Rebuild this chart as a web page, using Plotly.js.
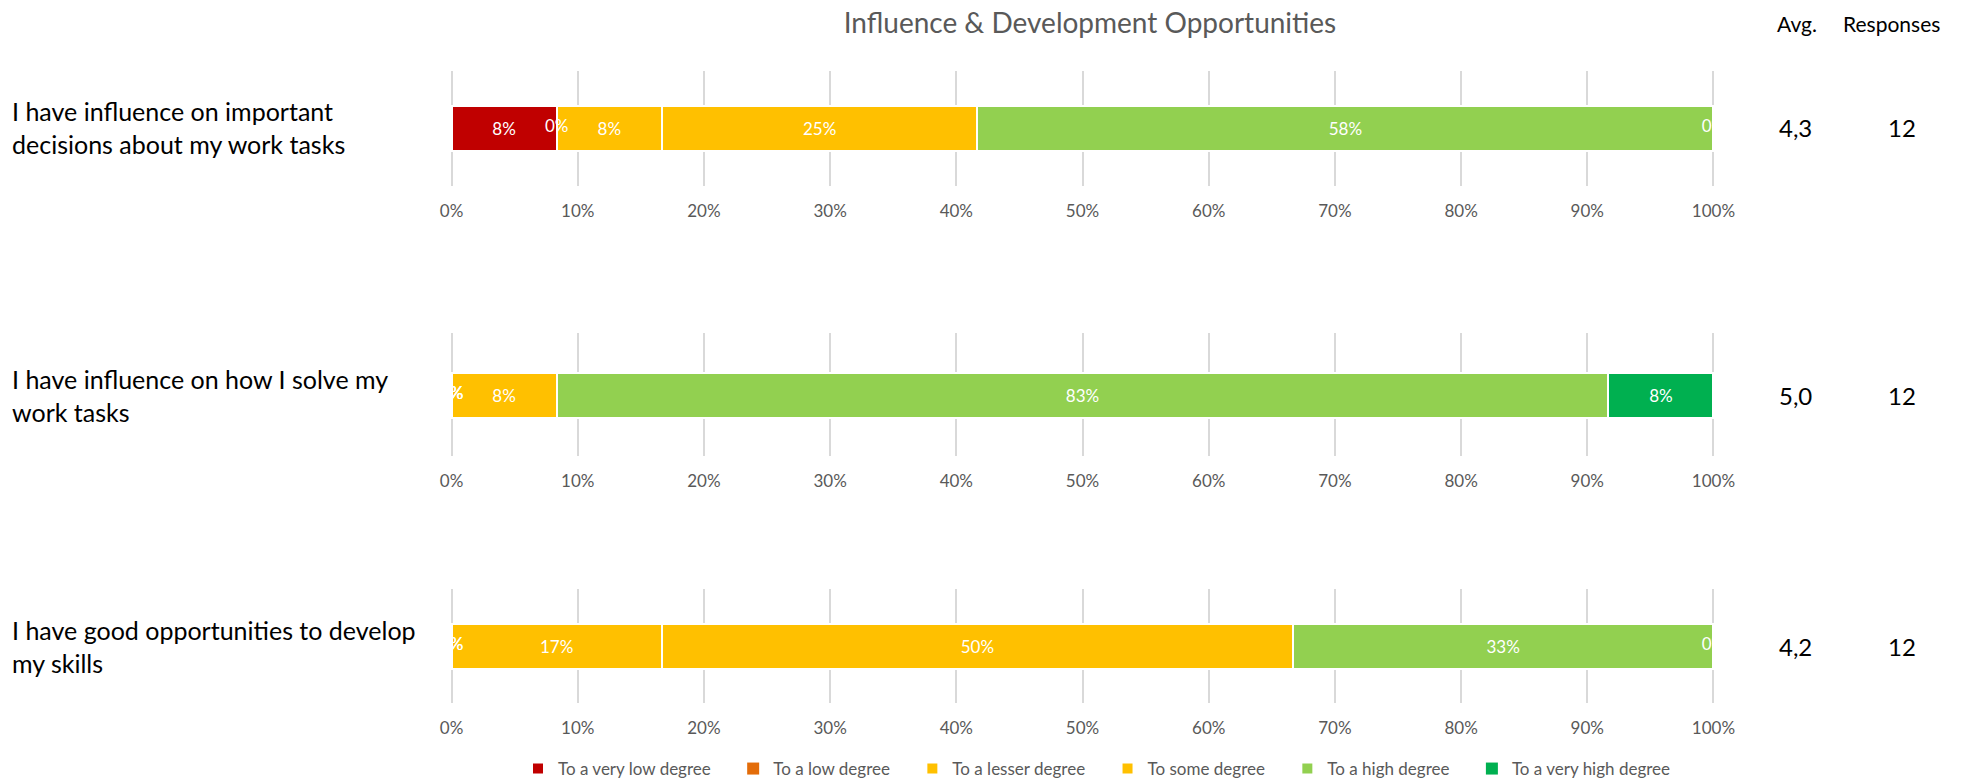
<!DOCTYPE html>
<html>
<head>
<meta charset="utf-8">
<script src="https://cdn.plot.ly/plotly-3.0.1.min.js"></script>
<style>html,body{margin:0;padding:0;background:#fff;}#chart{width:1975px;height:780px;}</style>
</head>
<body>
<div id="chart"></div>
<script>
// ---- data ----
const categories = [
  "I have influence on important<br>decisions about my work tasks",
  "I have influence on how I solve my<br>work tasks",
  "I have good opportunities to develop<br>my skills"
];
const seriesNames = ["To a very low degree", "To a low degree", "To a lesser degree",
                     "To some degree", "To a high degree", "To a very high degree"];
// response counts per answer option (rows = the three statements)
const veryLow  = [1, 0, 0];
const low      = [0, 0, 0];
const lesser   = [1, 0, 2];
const some     = [3, 1, 6];
const high     = [7, 10, 4];
const veryHigh = [0, 1, 0];
const responses = [12, 12, 12];
const averages  = ["4,3", "5,0", "4,2"];
const headerAvg = "Avg.";
const headerResp = "Responses";
const chartTitle = "Influence & Development Opportunities";

// ---- styling ----
const palette = ["#C00000", "#E36C09", "#FFC000", "#FFC000", "#92D050", "#00B050"];
const FONT = "Lato, 'Open Sans', sans-serif";
const GRAY = "#595959";
const W = 1975, H = 780;
const xDom = [449 / W, 1716 / W];
const rowPix = [[71, 186], [333, 456], [589, 703]]; // gridline extent per row (px from top)
const barPx = 45;
const barCenters = [128, 395, 646];
const legendPad = "\u00A0".repeat(4);

const series = [veryLow, low, lesser, some, high, veryHigh];
const traces = [];
const layout = {
  width: W, height: H,
  margin: {l: 0, r: 0, t: 0, b: 0, autoexpand: false},
  paper_bgcolor: "#fff", plot_bgcolor: "rgba(0,0,0,0)",
  barmode: "stack",
  showlegend: true,
  font: {family: FONT, color: GRAY},
  title: {text: chartTitle, x: 1090 / W, xanchor: "center", y: 1 - 23 / H, yanchor: "middle",
          font: {family: FONT, size: 28, color: GRAY}},
  legend: {orientation: "h", x: 518 / W, xanchor: "left", y: -7 / H, yanchor: "bottom",
           font: {family: FONT, size: 17, color: GRAY}, itemwidth: 30, traceorder: "normal"},
  annotations: []
};

categories.forEach((cat, r) => {
  const xa = r === 0 ? "x" : "x" + (r + 1);
  const ya = r === 0 ? "y" : "y" + (r + 1);
  const xKey = r === 0 ? "xaxis" : "xaxis" + (r + 1);
  const yKey = r === 0 ? "yaxis" : "yaxis" + (r + 1);
  const domPx = rowPix[r][1] - rowPix[r][0];
  const bw = barPx / domPx;
  // place the bar centre inside the row's domain (category axis runs bottom-to-top)
  const off = (barCenters[r] - (rowPix[r][0] + rowPix[r][1]) / 2) / domPx;
  layout[xKey] = {
    domain: xDom, anchor: ya, range: [-0.2, 100.2], dtick: 10, tick0: 0, ticksuffix: "%",
    showgrid: true, gridcolor: "#D9D9D9", gridwidth: 1.5, zeroline: false, showline: false,
    ticks: "", ticklabelstandoff: 13, tickfont: {family: FONT, size: 17, color: GRAY}, fixedrange: true
  };
  layout[yKey] = {
    domain: [1 - rowPix[r][1] / H, 1 - rowPix[r][0] / H], anchor: xa, type: "category",
    range: [-0.5 + off, 0.5 + off], autorange: false,
    showticklabels: false, showgrid: false, zeroline: false, showline: false, ticks: "",
    fixedrange: true
  };
  let cum = 0;
  const zeroX = [], zeroY = [], zeroT = [];
  series.forEach((arr, s) => {
    const pct = arr[r] / responses[r] * 100;
    if (pct > 0) {
      traces.push({
        type: "bar", orientation: "h", x: [pct], y: [cat], xaxis: xa, yaxis: ya,
        name: seriesNames[s] + legendPad, legendgroup: seriesNames[s], showlegend: r === 0,
        marker: {color: palette[s], line: {color: "#ffffff", width: 2}},
        width: bw,
        text: [Math.round(pct) + "%"], textposition: "inside", insidetextanchor: "middle",
        textangle: 0, constraintext: "none",
        textfont: {family: FONT, size: 17, color: "#ffffff"}, hoverinfo: "x"
      });
    } else {
      if (r === 0) {
        traces.push({
          type: "bar", orientation: "h", x: [0], y: [cat], xaxis: xa, yaxis: ya,
          name: seriesNames[s] + legendPad, legendgroup: seriesNames[s], showlegend: true,
          marker: {color: palette[s]}, width: bw, hoverinfo: "skip"
        });
      }
      zeroX.push(cum); zeroY.push(cat); zeroT.push("0%");
    }
    cum += pct;
  });
  traces.push({
    type: "scatter", mode: "text", x: zeroX, y: zeroY, text: zeroT, xaxis: xa, yaxis: ya,
    textposition: "middle center", cliponaxis: true, showlegend: false, hoverinfo: "skip",
    textfont: {family: FONT, size: 17, color: "#ffffff"}
  });
  const yc = 1 - barCenters[r] / H;
  layout.annotations.push({
    xref: "paper", yref: "paper", x: 10 / W, y: yc, xanchor: "left", yanchor: "middle", align: "left",
    text: cat, showarrow: false, font: {family: FONT, size: 25, color: "#000"}
  });
  layout.annotations.push({
    xref: "paper", yref: "paper", x: 1795 / W, y: yc, xanchor: "center", yanchor: "middle",
    text: averages[r], showarrow: false, font: {family: FONT, size: 24, color: "#000"}
  });
  layout.annotations.push({
    xref: "paper", yref: "paper", x: 1902 / W, y: yc, xanchor: "center", yanchor: "middle",
    text: String(responses[r]), showarrow: false, font: {family: FONT, size: 24, color: "#000"}
  });
});
layout.annotations.push({
  xref: "paper", yref: "paper", x: 1797 / W, y: 1 - 23 / H, xanchor: "center", yanchor: "middle",
  text: headerAvg, showarrow: false, font: {family: FONT, size: 21, color: "#000"}
});
layout.annotations.push({
  xref: "paper", yref: "paper", x: 1891 / W, y: 1 - 23 / H, xanchor: "center", yanchor: "middle",
  text: headerResp, showarrow: false, font: {family: FONT, size: 21, color: "#000"}
});

Plotly.newPlot("chart", traces, layout, {displayModeBar: false, responsive: false});
</script>
</body>
</html>
